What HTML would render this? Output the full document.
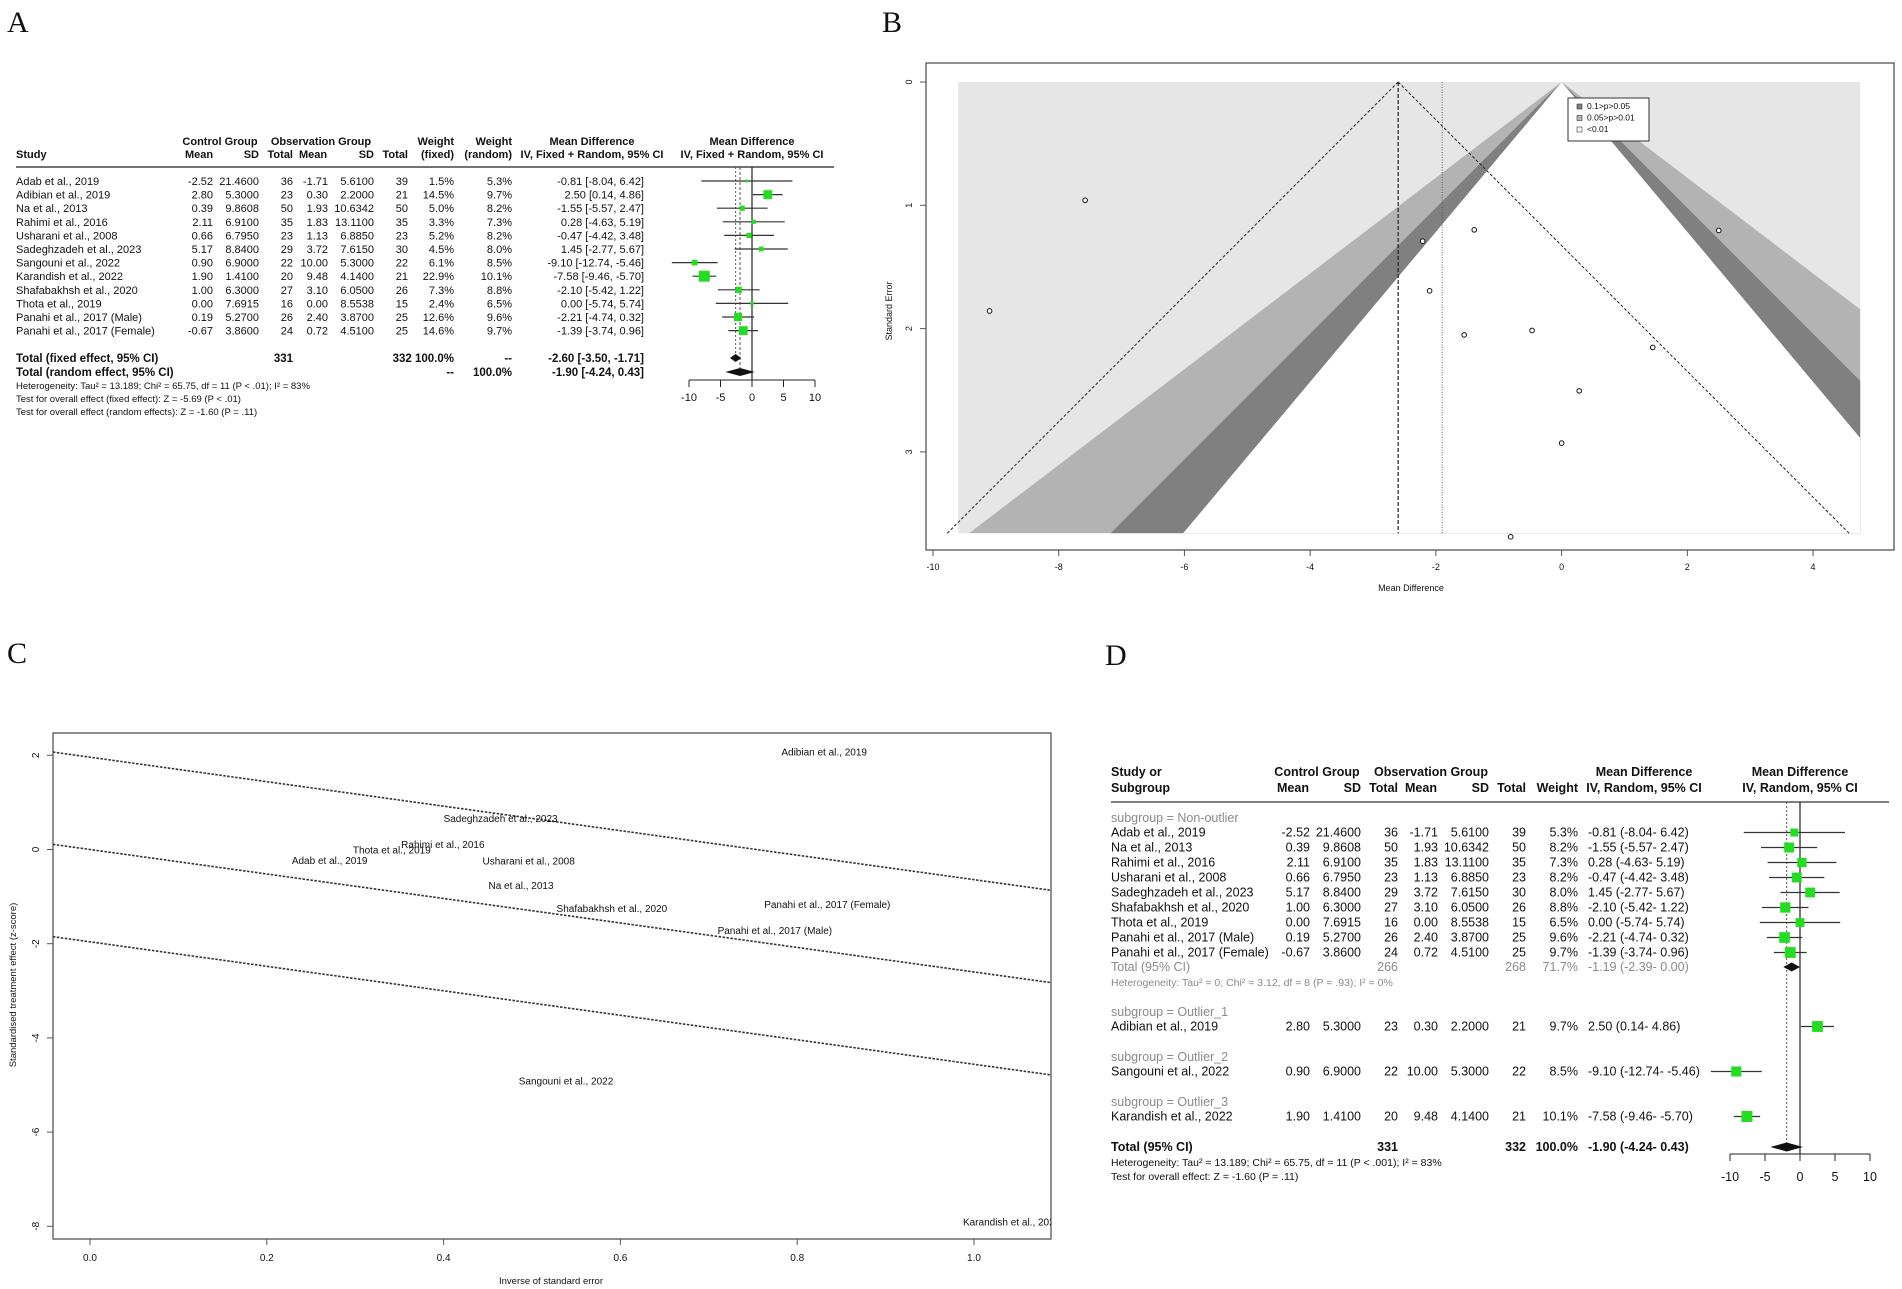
<!DOCTYPE html>
<html><head><meta charset="utf-8"><title>Meta-analysis figure</title>
<style>
html,body{margin:0;padding:0;background:#fff;}
svg{display:block;}
text{font-family:"Liberation Sans",sans-serif;}
text:not([fill]){fill:#111;}
.let{font-family:"Liberation Serif",serif;font-size:30px;}
</style></head>
<body>
<svg id="fig" width="1902" height="1289" viewBox="0 0 1902 1289" xmlns="http://www.w3.org/2000/svg">
<rect x="0" y="0" width="1902" height="1289" fill="#fff"/>
<text class="let" x="7" y="32">A</text>
<text class="let" x="882" y="32">B</text>
<text class="let" x="7" y="663">C</text>
<text class="let" x="1105" y="665">D</text>
<g id="pA"></g>
<g id="pB"></g>
<g id="pC"></g>
<g id="pD"></g>
</svg>
<script>
// ---- shared data ----
const studies = ["Adab et al., 2019","Adibian et al., 2019","Na et al., 2013","Rahimi et al., 2016","Usharani et al., 2008","Sadeghzadeh et al., 2023","Sangouni et al., 2022","Karandish et al., 2022","Shafabakhsh et al., 2020","Thota et al., 2019","Panahi et al., 2017 (Male)","Panahi et al., 2017 (Female)"];
const ctrlMean = ["-2.52","2.80","0.39","2.11","0.66","5.17","0.90","1.90","1.00","0.00","0.19","-0.67"];
const ctrlSD = ["21.4600","5.3000","9.8608","6.9100","6.7950","8.8400","6.9000","1.4100","6.3000","7.6915","5.2700","3.8600"];
const ctrlN = ["36","23","50","35","23","29","22","20","27","16","26","24"];
const obsMean = ["-1.71","0.30","1.93","1.83","1.13","3.72","10.00","9.48","3.10","0.00","2.40","0.72"];
const obsSD = ["5.6100","2.2000","10.6342","13.1100","6.8850","7.6150","5.3000","4.1400","6.0500","8.5538","3.8700","4.5100"];
const obsN = ["39","21","50","35","23","30","22","21","26","15","25","25"];
const md = [-0.81,2.50,-1.55,0.28,-0.47,1.45,-9.10,-7.58,-2.10,0.00,-2.21,-1.39];
const lo = [-8.04,0.14,-5.57,-4.63,-4.42,-2.77,-12.74,-9.46,-5.42,-5.74,-4.74,-3.74];
const hi = [6.42,4.86,2.47,5.19,3.48,5.67,-5.46,-5.70,1.22,5.74,0.32,0.96];
const wFixed = [1.5,14.5,5.0,3.3,5.2,4.5,6.1,22.9,7.3,2.4,12.6,14.6];
const wRandom = [5.3,9.7,8.2,7.3,8.2,8.0,8.5,10.1,8.8,6.5,9.6,9.7];
const fixedEst = [-2.60,-3.50,-1.71];
const randomEst = [-1.90,-4.24,0.43];
const forestTicks = [-10,-5,0,5,10];

const NS="http://www.w3.org/2000/svg";
function mk(parent,tag,attrs,txt){const e=document.createElementNS(NS,tag);for(const k in attrs)e.setAttribute(k,attrs[k]);if(txt!==undefined)e.textContent=txt;parent.appendChild(e);return e;}
function f2(v){return (v<0?"-":"")+Math.abs(v).toFixed(2);}

// ---------------- Panel A ----------------
(function(){
const g=document.getElementById('pA');
const fs=11;
function T(x,y,s,anchor,extra,name){const e=mk(g,'text',Object.assign({x:x,y:y,'font-size':fs,'text-anchor':anchor||'start'},extra||{}),s);

return e;}
const bold={'font-weight':'bold'};
T(220,145,"Control Group","middle",bold,"header-control-group");
T(321,145,"Observation Group","middle",bold,"header-observation-group");
T(454,145,"Weight","end",bold,"header-weight-fixed");
T(512,145,"Weight","end",bold,"header-weight-random");
T(592,145,"Mean Difference","middle",bold,"header-mean-difference");
T(752,145,"Mean Difference","middle",bold,"header-forest-mean-difference");
T(16,158,"Study","start",bold,"header-study");
T(199,158,"Mean","middle",bold,"header-ctrl-mean");
T(259,158,"SD","end",bold,"header-ctrl-sd");
T(293,158,"Total","end",bold,"header-ctrl-total");
T(313,158,"Mean","middle",bold,"header-obs-mean");
T(374,158,"SD","end",bold,"header-obs-sd");
T(408,158,"Total","end",bold,"header-obs-total");
T(454,158,"(fixed)","end",bold,"header-fixed");
T(512,158,"(random)","end",bold,"header-random");
T(592,158,"IV, Fixed + Random, 95% CI","middle",bold,"header-ci");
T(752,158,"IV, Fixed + Random, 95% CI","middle",bold,"header-forest-ci");
const sep=mk(g,'line',{x1:16,y1:167,x2:834,y2:167,stroke:'#444','stroke-width':1.5});


const x0=752, ppu=6.3;
function X(v){return x0+v*ppu;}
const rowY=i=>185+i*13.6;
const zl=mk(g,'line',{x1:X(0),y1:167,x2:X(0),y2:380,stroke:'#222','stroke-width':1.2});


const d1=mk(g,'line',{x1:X(fixedEst[0]),y1:167,x2:X(fixedEst[0]),y2:356,stroke:'#555','stroke-width':1,'stroke-dasharray':'2,2'});


const d2=mk(g,'line',{x1:X(randomEst[0]),y1:167,x2:X(randomEst[0]),y2:368,stroke:'#555','stroke-width':1,'stroke-dasharray':'3,2'});


for(let i=0;i<studies.length;i++){
  const y=rowY(i);
  T(16,y,studies[i],"start",{},"study-name");
  T(213,y,ctrlMean[i],"end",{},"ctrl-mean");
  T(259,y,ctrlSD[i],"end",{},"ctrl-sd");
  T(293,y,ctrlN[i],"end",{},"ctrl-total");
  T(328,y,obsMean[i],"end",{},"obs-mean");
  T(374,y,obsSD[i],"end",{},"obs-sd");
  T(408,y,obsN[i],"end",{},"obs-total");
  T(454,y,wFixed[i].toFixed(1)+"%","end",{},"weight-fixed");
  T(512,y,wRandom[i].toFixed(1)+"%","end",{},"weight-random");
  T(644,y,f2(md[i])+" ["+f2(lo[i])+", "+f2(hi[i])+"]","end",{},"mean-difference-ci");
  const cy=y-4;
  const l=mk(g,'line',{x1:X(lo[i]),y1:cy,x2:X(hi[i]),y2:cy,stroke:'#333','stroke-width':1.2});
  
  
  const s=Math.max(2.5,Math.sqrt(wFixed[i]/22.9)*11);
  const r=mk(g,'rect',{x:X(md[i])-s/2,y:cy-s/2,width:s,height:s,fill:'#22dd22'});
  
  
}
const tb={'font-weight':'bold','font-size':11.5};
T(16,362,"Total (fixed effect, 95% CI)","start",tb,"total-fixed-label");
T(293,362,"331","end",tb,"total-ctrl-n");
T(408,362,"332 100.0%","end",Object.assign({},tb,{x:454}),"total-fixed-weight");
T(512,362,"--","end",tb,"total-fixed-random-weight");
T(644,362,f2(fixedEst[0])+" ["+f2(fixedEst[1])+", "+f2(fixedEst[2])+"]","end",tb,"total-fixed-ci");
T(16,376,"Total (random effect, 95% CI)","start",tb,"total-random-label");
T(454,376,"--","end",tb,"total-random-fixed-weight");
T(512,376,"100.0%","end",tb,"total-random-weight");
T(644,376,f2(randomEst[0])+" ["+f2(randomEst[1])+", "+f2(randomEst[2])+"]","end",tb,"total-random-ci");
const sm={'font-size':9.5};
T(16,389,"Heterogeneity: Tau² = 13.189; Chi² = 65.75, df = 11 (P < .01); I² = 83%","start",sm,"heterogeneity-text");
T(16,402,"Test for overall effect (fixed effect): Z = -5.69 (P < .01)","start",sm,"overall-effect-fixed");
T(16,415,"Test for overall effect (random effects): Z = -1.60 (P = .11)","start",sm,"overall-effect-random");
function diamond(est,y,h,name){const p=mk(g,'polygon',{points:`${X(est[1])},${y} ${X(est[0])},${y-h} ${X(est[2])},${y} ${X(est[0])},${y+h}`,fill:'#111'});

}
diamond(fixedEst,358,4,'fixed-diamond');
diamond(randomEst,372,4,'random-diamond');
const ax=mk(g,'line',{x1:X(-10),y1:380,x2:X(10),y2:380,stroke:'#222','stroke-width':1});


forestTicks.forEach(t=>{const k=mk(g,'line',{x1:X(t),y1:380,x2:X(t),y2:387,stroke:'#222'});


T(X(t),401,String(t),"middle",{'font-size':11},"forest-tick-label");});
})();

// ---------------- Panel B ----------------
const funnelXTicks=[-10,-8,-6,-4,-2,0,2,4];
const funnelYTicks=[0,1,2,3];
const seMax=3.66;
const pooledFixed=-2.60, pooledRandom=-1.90;
(function(){
const g=document.getElementById('pB');
const X=v=>1561.6+62.86*v, Y=s=>82+123.3*s;
const frame=mk(g,'rect',{x:926,y:63,width:968,height:487,fill:'none',stroke:'#555','stroke-width':1.3});


const defs=mk(g,'defs',{});
const cp=mk(defs,'clipPath',{id:'clipB'});
mk(cp,'rect',{x:X(-9.6),y:Y(0),width:X(4.75)-X(-9.6),height:Y(seMax)-Y(0)});
const bg=mk(g,'rect',{x:X(-9.6),y:Y(0),width:X(4.75)-X(-9.6),height:Y(seMax)-Y(0),fill:'#e6e6e6'});


const zs=[[2.576,'#b3b3b3','region-0.05-p-0.01'],[1.96,'#808080','region-0.1-p-0.05'],[1.645,'#ffffff','region-non-significant']];
zs.forEach(z=>{const p=mk(g,'polygon',{points:`${X(0)},${Y(0)} ${X(-z[0]*seMax)},${Y(seMax)} ${X(z[0]*seMax)},${Y(seMax)}`,fill:z[1],'clip-path':'url(#clipB)'});

});
const dl=[[pooledFixed-1.96*seMax,seMax,pooledFixed,0],[pooledFixed,0,pooledFixed+1.96*seMax,seMax]];
dl.forEach(d=>{const l=mk(g,'line',{x1:X(d[0]),y1:Y(d[1]),x2:X(d[2]),y2:Y(d[3]),stroke:'#222','stroke-width':1,'stroke-dasharray':'3,2'});

});
const v1=mk(g,'line',{x1:X(pooledFixed),y1:Y(0),x2:X(pooledFixed),y2:Y(seMax),stroke:'#222','stroke-width':1.2,'stroke-dasharray':'4,2'});


const v2=mk(g,'line',{x1:X(pooledRandom),y1:Y(0),x2:X(pooledRandom),y2:Y(seMax),stroke:'#444','stroke-width':0.8,'stroke-dasharray':'1,1.5'});


for(let i=0;i<md.length;i++){const se=(hi[i]-lo[i])/3.92;
const c=mk(g,'circle',{cx:X(md[i]),cy:Y(se),r:2.3,fill:'#fff',stroke:'#111','stroke-width':1});

}
mk(g,'line',{x1:X(-10),y1:550,x2:X(4),y2:550,stroke:'#555'});
funnelXTicks.forEach(t=>{const k=mk(g,'line',{x1:X(t),y1:550,x2:X(t),y2:556,stroke:'#555'});


const tx=mk(g,'text',{x:X(t),y:570,'font-size':9,'text-anchor':'middle'},String(t));

});
funnelYTicks.forEach(t=>{const k=mk(g,'line',{x1:920,y1:Y(t),x2:926,y2:Y(t),stroke:'#555'});


const tx=mk(g,'text',{x:0,y:0,'font-size':9,'text-anchor':'middle',transform:`translate(912,${Y(t)}) rotate(-90)`},String(t));

});
const xl=mk(g,'text',{x:1411,y:591,'font-size':9,'text-anchor':'middle'},"Mean Difference");


const yl=mk(g,'text',{x:0,y:0,'font-size':9,'text-anchor':'middle',transform:'translate(892,311) rotate(-90)'},"Standard Error");


const lg=mk(g,'g',{});


mk(lg,'rect',{x:1568,y:98,width:81,height:43,fill:'#fff',stroke:'#333'});
[['#808080','0.1>p>0.05'],['#b3b3b3','0.05>p>0.01'],['#ffffff','<0.01']].forEach((e,i)=>{
const y=109+i*11.5;
const s=mk(lg,'rect',{x:1577,y:y-5,width:5,height:5,fill:e[0],stroke:'#333','stroke-width':0.6});


const t=mk(lg,'text',{x:1587,y:y,'font-size':8.5},e[1]);

});
})();

// ---------------- Panel C ----------------
const radialXTicks=[0.0,0.2,0.4,0.6,0.8,1.0];
const radialYTicks=[2,0,-2,-4,-6,-8];
const radialSlope=-2.60;
(function(){
const g=document.getElementById('pC');
const X=v=>90+884*v, Y=z=>849.5-47.1*z;
const defs=mk(g,'defs',{});
const cp=mk(defs,'clipPath',{id:'clipC'});
mk(cp,'rect',{x:53,y:733,width:998,height:506});
const fr=mk(g,'rect',{x:53,y:733,width:998,height:506,fill:'none',stroke:'#555','stroke-width':1.3});


const xa=-0.042, xb=1.087;
[1.96,0,-1.96].forEach(o=>{const l=mk(g,'line',{x1:X(xa),y1:Y(o+radialSlope*xa),x2:X(xb),y2:Y(o+radialSlope*xb),stroke:'#333','stroke-width':1.6,'stroke-dasharray':'2.5,1.5','clip-path':'url(#clipC)'});

});
for(let i=0;i<md.length;i++){const se=(hi[i]-lo[i])/3.92;
const t=mk(g,'text',{x:X(1/se),y:Y(md[i]/se)+4,'font-size':10,'text-anchor':'middle','clip-path':'url(#clipC)'},studies[i]);

}
radialXTicks.forEach(t=>{const k=mk(g,'line',{x1:X(t),y1:1239,x2:X(t),y2:1245,stroke:'#555'});


const tx=mk(g,'text',{x:X(t),y:1261,'font-size':10,'text-anchor':'middle'},t.toFixed(1));

});
radialYTicks.forEach(t=>{const k=mk(g,'line',{x1:47,y1:Y(t),x2:53,y2:Y(t),stroke:'#555'});


const tx=mk(g,'text',{x:0,y:0,'font-size':10,'text-anchor':'middle',transform:`translate(39,${Y(t)}) rotate(-90)`},String(t));

});
const xl=mk(g,'text',{x:551,y:1284,'font-size':9.5,'text-anchor':'middle'},"Inverse of standard error");


const yl=mk(g,'text',{x:0,y:0,'font-size':9.5,'text-anchor':'middle',transform:'translate(16,985) rotate(-90)'},"Standardised treatment effect (z-score)");


})();

// ---------------- Panel D ----------------
const dGroups=["subgroup = Non-outlier","subgroup = Outlier_1","subgroup = Outlier_2","subgroup = Outlier_3"];
const dMembers=[[0,2,3,4,5,8,9,10,11],[1],[6],[7]];
const dSubTotal=[-1.19,-2.39,0.00];
const dOverall=[-1.90,-4.24,0.43];
(function(){
const g=document.getElementById('pD');
const fs=12.5;
function T(x,y,s,anchor,extra,name){const e=mk(g,'text',Object.assign({x:x,y:y,'font-size':fs,'text-anchor':anchor||'start'},extra||{}),s);

return e;}
const b={'font-weight':'bold'};
T(1111,776,"Study or","start",b,"header-study");
T(1111,792,"Subgroup","start",b,"header-subgroup");
T(1317,776,"Control Group","middle",b,"header-control-group");
T(1431,776,"Observation Group","middle",b,"header-observation-group");
T(1644,776,"Mean Difference","middle",b,"header-mean-difference");
T(1800,776,"Mean Difference","middle",b,"header-forest-mean-difference");
T(1293,792,"Mean","middle",b,"header-ctrl-mean");
T(1361,792,"SD","end",b,"header-ctrl-sd");
T(1398,792,"Total","end",b,"header-ctrl-total");
T(1421,792,"Mean","middle",b,"header-obs-mean");
T(1489,792,"SD","end",b,"header-obs-sd");
T(1526,792,"Total","end",b,"header-obs-total");
T(1578,792,"Weight","end",b,"header-weight");
T(1644,792,"IV, Random, 95% CI","middle",b,"header-ci");
T(1800,792,"IV, Random, 95% CI","middle",b,"header-forest-ci");
const sep=mk(g,'line',{x1:1111,y1:802,x2:1889,y2:802,stroke:'#555','stroke-width':1.5});


const X=v=>1800+7.0*v;
const zl=mk(g,'line',{x1:X(0),y1:802,x2:X(0),y2:1154,stroke:'#222','stroke-width':1.2});


const dl=mk(g,'line',{x1:X(dOverall[0]),y1:802,x2:X(dOverall[0]),y2:1150,stroke:'#555','stroke-width':1,'stroke-dasharray':'2,2'});


const grey={fill:'#8a8a8a'};
const groupY=[822,1016,1061,1106];
function row(i,y){
  T(1111,y,studies[i],"start",{},"study-name");
  T(1310,y,ctrlMean[i],"end",{},"ctrl-mean");
  T(1361,y,ctrlSD[i],"end",{},"ctrl-sd");
  T(1398,y,ctrlN[i],"end",{},"ctrl-total");
  T(1438,y,obsMean[i],"end",{},"obs-mean");
  T(1489,y,obsSD[i],"end",{},"obs-sd");
  T(1526,y,obsN[i],"end",{},"obs-total");
  T(1578,y,wRandom[i].toFixed(1)+"%","end",{},"weight");
  T(1588,y,f2(md[i])+" ("+f2(lo[i])+"- "+f2(hi[i])+")","start",{},"mean-difference-ci");
  const cy=y-4;
  const l=mk(g,'line',{x1:X(lo[i]),y1:cy,x2:X(hi[i]),y2:cy,stroke:'#333','stroke-width':1.2});
  
  
  const s=Math.sqrt(wRandom[i]/10.1)*11;
  const r=mk(g,'rect',{x:X(md[i])-s/2,y:cy-s/2,width:s,height:s,fill:'#22dd22'});
  
  
}
dGroups.forEach((name,gi)=>{
  T(1111,groupY[gi],name,"start",grey,"subgroup-label");
  dMembers[gi].forEach((idx,k)=>row(idx,groupY[gi]+14.5+k*15));
});
T(1111,971,"Total (95% CI)","start",grey,"subgroup-total-label");
T(1398,971,"266","end",grey,"subgroup-ctrl-n");
T(1526,971,"268","end",grey,"subgroup-obs-n");
T(1578,971,"71.7%","end",grey,"subgroup-weight");
T(1588,971,f2(dSubTotal[0])+" ("+f2(dSubTotal[1])+"- "+f2(dSubTotal[2])+")","start",grey,"subgroup-ci");
T(1111,986,"Heterogeneity: Tau² = 0; Chi² = 3.12, df = 8 (P = .93); I² = 0%","start",{fill:'#8a8a8a','font-size':10.5},"subgroup-heterogeneity");
function diamond(est,y,h,name){const p=mk(g,'polygon',{points:`${X(est[1])},${y} ${X(est[0])},${y-h} ${X(est[2])},${y} ${X(est[0])},${y+h}`,fill:'#111'});

}
diamond(dSubTotal,967,4.5,'subgroup-diamond');
diamond(dOverall,1147,4.5,'overall-diamond');
T(1111,1151,"Total (95% CI)","start",b,"total-label");
T(1398,1151,"331","end",b,"total-ctrl-n");
T(1526,1151,"332","end",b,"total-obs-n");
T(1578,1151,"100.0%","end",b,"total-weight");
T(1588,1151,f2(dOverall[0])+" ("+f2(dOverall[1])+"- "+f2(dOverall[2])+")","start",b,"total-ci");
T(1111,1166,"Heterogeneity: Tau² = 13.189; Chi² = 65.75, df = 11 (P < .001); I² = 83%","start",{'font-size':10.5},"heterogeneity-text");
T(1111,1180,"Test for overall effect: Z = -1.60 (P = .11)","start",{'font-size':10.5},"overall-effect-text");
const ax=mk(g,'line',{x1:X(-10),y1:1154,x2:X(10),y2:1154,stroke:'#222'});


forestTicks.forEach(t=>{const k=mk(g,'line',{x1:X(t),y1:1154,x2:X(t),y2:1161,stroke:'#222'});


T(X(t),1181,String(t),"middle",{},"forest-tick-label");});
})();
</script>
</body></html>
